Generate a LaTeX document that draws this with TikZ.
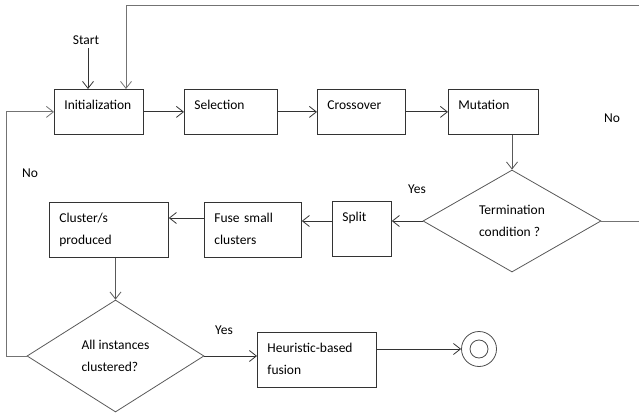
\documentclass[tikz,border=0pt]{standalone}
\usepackage{fontspec}
\setmainfont{Carlito}
\usetikzlibrary{shapes.geometric,arrows.meta}

\begin{document}
\begin{tikzpicture}[x=1pt,y=-1pt,
		font=\fontsize{13.5}{22}\selectfont,
		>={Straight Barb[length=7pt,width=11pt]},
		line width=0.8pt,
		box/.style={draw=black!80, anchor=north west, align=left, inner xsep=10pt, inner ysep=0pt, text height=20pt, text depth=25pt},
		tallbox/.style={box, text depth=35pt},
		decision/.style={diamond, draw=black!65, aspect=1.7, inner sep=0pt, align=left},
		flow/.style={->, draw=black!80},
		loopback/.style={->, draw=black!55}]
		\useasboundingbox (0,0) rectangle (639,414);
		
		%top row
		\node[box, text width=69pt] (init) at (54,89) {Initialization};
		\node[box, text width=73pt] (sel) at (184,89) {Selection};
		\node[box, text width=68pt] (cross) at (317,89) {Crossover};
		\node[box, text width=70pt] (mut) at (448,89) {Mutation};
		\node (start) at (86,40) {Start};
		
		%middle row
		\node[decision, minimum width=178pt, minimum height=102pt] (term) at (512,221) {Termination\\condition ?};
		\node[tallbox, text width=39pt] (split) at (332,201) {Split};
		\node[tallbox, text width=77pt] (fuse) at (204,202) {Fuse small\\clusters};
		\node[tallbox, text width=99pt] (clust) at (49,202) {Cluster/s\\produced};
		
		%bottom row
		\node[decision, minimum width=177pt, minimum height=112pt] (allinst) at (115.5,356) {All instances\\clustered?};
		\node[tallbox, text width=99pt] (heur) at (257,332) {Heuristic-based\\fusion};
		\node[circle, draw=black!70, minimum size=35pt, inner sep=0pt] (stop) at (479,349) {};
		\draw[black!70] (stop.center) circle (9pt);
		
		\node (no1) at (612,118) {No};
		\node (yes1) at (417,189) {Yes};
		\node (no2) at (30,173) {No};
		\node (yes2) at (224,330) {Yes};
		
		\coordinate (rim) at (641,5);
		\coordinate (loop) at (126,5);
		
		\draw[flow] ([xshift=2pt]start.south) -- ([xshift=2pt]start.south |- init.north);
		\draw[flow] (init) -- (sel);
		\draw[flow] (sel) -- (cross);
		\draw[flow] (cross) -- (mut);
		\draw[flow, draw=black!65] (term.north |- mut.south) -- (term.north);
		\draw[flow] (term.west) -- (term.west -| split.east);
		\draw[flow] (split.west |- term) -- (fuse.east |- term);
		\draw[flow] (fuse.west |- 0,218) -- (clust.east |- 0,218);
		\draw[flow, draw=black!65] (allinst.north |- clust.south) -- (allinst.north);
		\draw[flow] (allinst.east) -- (allinst.east -| heur.west);
		\draw[flow] (heur.east |- stop) -- (stop.west);
		\draw[loopback] (allinst.west) -- ++(-20,0) |- (init.west);
		\draw[loopback] (term.east) -- (term.east -| rim) -- (rim) -- (loop) -- (loop |- init.north);
	\end{tikzpicture}
\end{document}
